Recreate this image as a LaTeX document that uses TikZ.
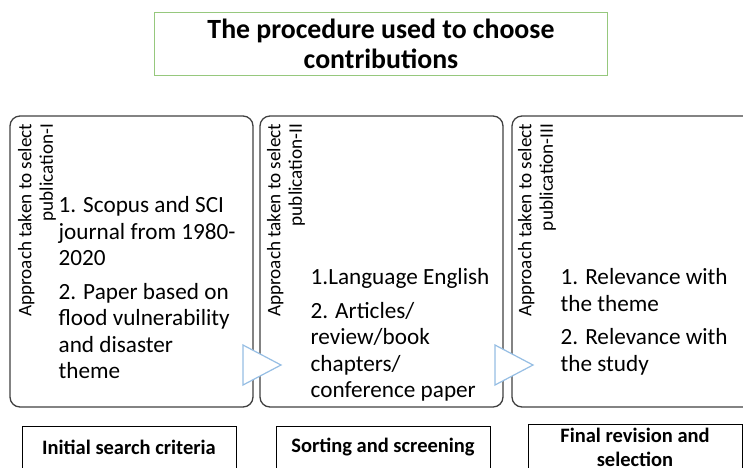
\documentclass[tikz,border=0pt]{standalone}
\usepackage{fontspec}
\setmainfont{Carlito}
\definecolor{framegray}{RGB}{64,64,64}
\definecolor{titlegreen}{RGB}{150,200,125}
\definecolor{chevblue}{RGB}{150,190,228}

\begin{document}
\begin{tikzpicture}[x=1pt,y=-1pt,line width=1.3pt,
  stage/.style={draw=framegray,rounded corners=10pt,inner sep=0pt,
    minimum width=243,minimum height=291},
  sidelabel/.style={rotate=90,anchor=east,align=right,inner sep=0pt,
    font=\fontsize{19.2}{21.5}\selectfont},
  itemtext/.style={anchor=north west,align=left,inner sep=0pt,
    font=\fontsize{23.2}{26.5}\selectfont},
  phase/.style={draw=black,line width=0.9pt,minimum width=214,minimum height=42,
    align=center,font=\bfseries\fontsize{20.5}{24}\selectfont},
  chev/.style={draw=chevblue,fill=white,line width=1.2pt,line join=miter}]
\useasboundingbox (0,0) rectangle (743,467);
\clip (0,0) rectangle (743,467);

% heading
\node[draw=titlegreen,line width=1.4pt,minimum width=453,minimum height=63,align=center,
  font=\bfseries\fontsize{27.8}{30}\selectfont] (title) at (381,44)
  {The procedure used to choose\\contributions};

% the three stages
\node[stage] (box1) at (131.5,261.5) {};
\node[stage] (box2) at (381.5,261.5) {};
\node[stage] (box3) at (633.5,261.5) {};

\node[sidelabel] (side1) at (37,123) {Approach taken to select\\publication-I};
\node[sidelabel] (side2) at (286,123) {Approach taken to select\\publication-II};
\node[sidelabel] (side3) at (537,123) {Approach taken to select\\publication-III};

\node[itemtext] (text1) at (58,196) {1. Scopus and SCI\\journal from 1980-\\2020\\[7pt]
  2. Paper based on\\flood vulnerability\\and disaster\\theme};
\node[itemtext] (text2) at (310,268) {1.Language English\\[7pt]2. Articles/\\review/book\\
  chapters/\\conference paper};
\node[itemtext] (text3) at (560,268) {1. Relevance with\\the theme\\[7pt]
  2. Relevance with\\the study};

% chevrons between stages
\draw[chev] (243,345) -- (281,365) -- (243,385) -- cycle;
\draw[chev] (495,345) -- (533,365) -- (495,385) -- cycle;

% phase names
\node[phase] (phase1) at (129,447) {Initial search criteria};
\node[phase] (phase2) at (383,447) {Sorting and screening};
\node[phase] (phase3) at (635,447) {Final revision and\\selection};
\end{tikzpicture}
\end{document}
